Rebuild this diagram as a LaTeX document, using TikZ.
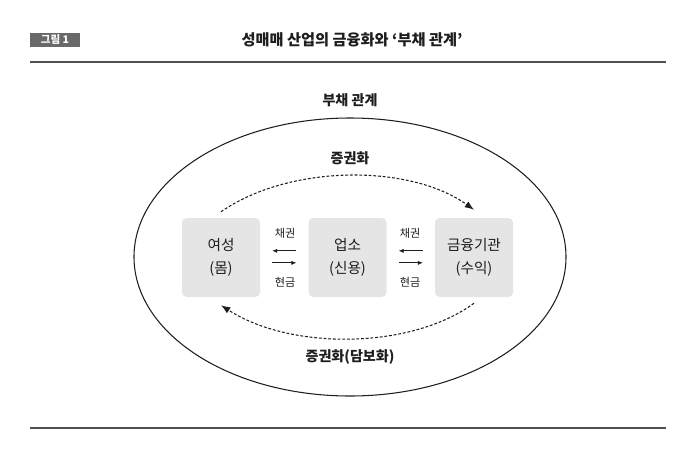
\documentclass[tikz,border=0pt]{standalone}
\usepackage{fontspec}
\setmainfont{Noto Sans CJK KR}
\usetikzlibrary{
  arrows.meta,
  positioning
}
\definecolor{boxgray}{RGB}{229,229,229}
\definecolor{ink}{RGB}{30,30,30}
\definecolor{rulegray}{RGB}{80,80,80}
\definecolor{taggray}{RGB}{105,105,105}
\tikzset{
  party/.style={
    fill=boxgray,
    rounded corners=4pt,
    align=center,
    text=ink,
    minimum width=2.34cm,
    minimum height=2.37cm,
    font=\fontsize{12.5}{19}\selectfont
  },
  smalllabel/.style={font=\fontsize{9.5}{10}\selectfont,text=ink},
  headlabel/.style={font=\fontsize{12}{12}\selectfont\bfseries,text=ink},
  pair arrow/.style={-{Latex[length=1.5mm,width=1.3mm]},semithick,draw=ink,
    shorten >=0.36cm,shorten <=0.36cm},
  secure/.style={-{Latex[length=2.8mm,width=2.1mm]},line width=0.9pt,draw=ink,
    dash pattern=on 2.4pt off 1.6pt},
  rule/.style={draw=rulegray,line width=1.4pt}
}
\begin{document}
\begin{tikzpicture}[x=0.03cm,y=-0.03cm]
  \useasboundingbox (0,0) rectangle (700,470);

  % header
  \node[fill=taggray,text=white,minimum width=1.47cm,minimum height=0.42cm,
    inner sep=0pt,font=\fontsize{9}{10}\selectfont\bfseries] (tag) at (55,40) {그림 1};
  \node[font=\fontsize{13}{14}\selectfont\bfseries,text=ink] (title) at (352,40)
    {성매매 산업의 금융화와 ‘부채 관계’};
  \draw[rule] (30,62) -- (666,62);
  \draw[rule] (30,428) -- (666,428);

  % debt relation
  \draw[ink,line width=0.9pt] (350,257) ellipse [x radius=6.48cm, y radius=4.17cm];
  \node[headlabel] (debt) at (350,100) {부채 관계};

  \node[party] (woman) at (221,257.5) {여성\\(몸)};
  \node[party] (venue) at (347.5,257.5) {업소\\(신용)};
  \node[party] (bank) at (474,257.5) {금융기관\\(수익)};

  \node[smalllabel] (bondA) at (285,233) {채권};
  \node[smalllabel] (cashA) at (285,282) {현금};
  \node[smalllabel] (bondB) at (410,233) {채권};
  \node[smalllabel] (cashB) at (410,282) {현금};

  \draw[pair arrow] ([yshift=0.2cm]venue.west) -- ([yshift=0.2cm]woman.east);
  \draw[pair arrow] ([yshift=-0.16cm]woman.east) -- ([yshift=-0.16cm]venue.west);
  \draw[pair arrow] ([yshift=0.2cm]bank.west) -- ([yshift=0.2cm]venue.east);
  \draw[pair arrow] ([yshift=-0.16cm]venue.east) -- ([yshift=-0.16cm]bank.west);

  % securitisation
  \node[headlabel] (secTop) at (350,158) {증권화};
  \node[headlabel] (secBottom) at (350,357) {증권화(담보화)};
  \draw[secure] ([yshift=0.18cm]woman.north)
    .. controls (290,164) and (410,164) .. ([yshift=0.24cm]bank.north);
  \draw[secure] ([yshift=-0.18cm]bank.south)
    .. controls (410,350) and (290,350) .. ([yshift=-0.24cm]woman.south);
\end{tikzpicture}
\end{document}
